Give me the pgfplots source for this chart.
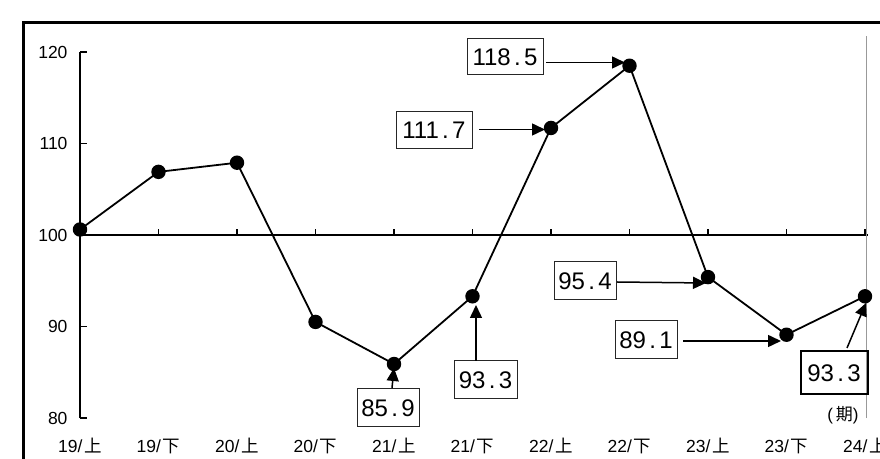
\documentclass[border=0pt]{standalone}
\usepackage{fontspec}
\setmainfont{Liberation Sans}
\newfontfamily\jp{Noto Sans CJK JP}
\usepackage{pgfplots}
\pgfplotsset{compat=1.18}
\usetikzlibrary{arrows.meta}

% half-year label, and a period as wide as a digit
\newcommand{\hy}[2]{#1/\hspace{2bp}{\jp #2}}
\newcommand{\dt}{\makebox[0.556em]{.}}

\begin{document}
\begin{tikzpicture}
\useasboundingbox (0,0) rectangle (880bp,459bp);
\clip (0,0) rectangle (880bp,459bp);

\begin{axis}[
    at={(80bp,41bp)}, anchor=south west,
    scale only axis, width=785bp, height=366bp,
    xmin=0, xmax=10, ymin=80, ymax=120,
    clip=false,
    axis y line=left, axis x line*=bottom,
    x axis line style={draw=none},
    y axis line style={line width=1.8bp, -},
    xtick={0,...,10},
    xticklabels={\hy{19}{上},\hy{19}{下},\hy{20}{上},\hy{20}{下},\hy{21}{上},\hy{21}{下},
                 \hy{22}{上},\hy{22}{下},\hy{23}{上},\hy{23}{下},\hy{24}{上}},
    xtick style={draw=none},
    ytick={80,90,100,110,120},
    ytick style={line width=1.8bp, black},
    major tick length=7bp,
    tick align=inside,
    /pgf/number format/assume math mode=true,
    tick label style={font=\fontsize{17.5bp}{20bp}\selectfont},
    xticklabel style={anchor=base, yshift=-34bp},
    yticklabel style={anchor=east, xshift=-9bp},
]
\draw[line width=1.8bp] (axis cs:0,100) -- (axis cs:10.04,100);
\draw[black!40, line width=1bp] (axis cs:10.025,80) -- (axis cs:10.025,121.75);

\addplot[black, line width=1.8bp, mark=*, mark size=6.3bp] coordinates {
    (0, 100.6)
    (1, 106.9)
    (2, 107.9)
    (3, 90.5)
    (4, 85.9)
    (5, 93.3)
    (6, 111.7)
    (7, 118.5)
    (8, 95.4)
    (9, 89.1)
    (10, 93.3)
};
\end{axis}

% annotations, in pixel units from the top left corner
\begin{scope}[x=1bp, y=-1bp, shift={(0bp,459bp)},
    box/.style={draw=black!85, line width=1bp, inner sep=0pt,
                font=\fontsize{24bp}{28bp}\selectfont},
    arr/.style={line width=1.5bp, -{Triangle[length=13bp, width=12bp]}}]
\draw[line width=3bp] (23,480) -- (23,23) -- (900,23);
\foreach \i in {1,...,10} \draw[line width=1.8bp] ({80+78.5*\i},235) -- ++(0,-6);

\node[box, minimum width=76bp, minimum height=36bp] at (505,57) {118\dt5};
\node[box, minimum width=76bp, minimum height=37bp] at (434,130.5) {111\dt7};
\node[box, minimum width=62bp, minimum height=38bp] at (585,281) {95\dt4};
\node[box, minimum width=62bp, minimum height=38bp] at (646,340) {89\dt1};
\node[box, minimum width=62bp, minimum height=38bp] at (388,408) {85\dt9};
\node[box, minimum width=63bp, minimum height=38bp] at (485.5,380) {93\dt3};
\node[box, draw=black, line width=2bp, minimum width=67bp, minimum height=43bp] at (834,373) {93\dt3};

\draw[arr] (546,62.5) -- (625,62.5);
\draw[arr] (479,129.5) -- (545,129.5);
\draw[arr] (617,282) -- (706,283);
\draw[arr] (683,341) -- (781,341);
\draw[arr] (847,348) -- (866,303);
\draw[arr] (392,388) -- (394,368);
\draw[arr] (476,361) -- (476,305);

\node[font=\fontsize{17bp}{20bp}\selectfont] at (843,415) {(\,{\jp 期})};
\end{scope}
\end{tikzpicture}
\end{document}
